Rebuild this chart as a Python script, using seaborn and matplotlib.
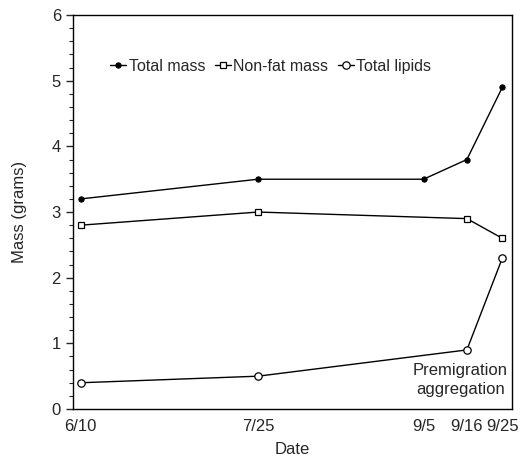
import pandas as pd
import numpy as np
import matplotlib
matplotlib.use("Agg")
import matplotlib.pyplot as plt
from matplotlib.ticker import MultipleLocator
import seaborn as sns

sns.set_style("ticks")
plt.rcParams["font.family"] = ["Liberation Sans", "DejaVu Sans"]

# valores
date_labels = ["6/10", "7/25", "9/5", "9/16", "9/25"]
total_mass = [3.2, 3.5, 3.5, 3.8, 4.9]
nonfat_dates = ["6/10", "7/25", "9/16", "9/25"]
nonfat_mass = [2.8, 3.0, 2.9, 2.6]
lipid_dates = ["6/10", "7/25", "9/16", "9/25"]
total_lipids = [0.4, 0.5, 0.9, 2.3]

def to_date(labels):
    return pd.to_datetime([f"2000/{d}" for d in labels], format="%Y/%m/%d")

df_total = pd.DataFrame({"data": to_date(date_labels), "mass": total_mass})
df_nonfat = pd.DataFrame({"data": to_date(nonfat_dates), "mass": nonfat_mass})
df_lipid = pd.DataFrame({"data": to_date(lipid_dates), "mass": total_lipids})

fig = plt.figure(figsize=(5.2, 4.57), dpi=100)
ax = fig.add_axes([0.140, 0.105, 0.845, 0.862])

sns.lineplot(data=df_total, x="data", y="mass", ax=ax, color="black", lw=1,
             marker="o", markersize=3.8, markerfacecolor="black",
             markeredgecolor="black", label="Total mass")
sns.lineplot(data=df_nonfat, x="data", y="mass", ax=ax, color="black", lw=1,
             marker="s", markersize=4.8, markerfacecolor="white",
             markeredgecolor="black", markeredgewidth=0.9, label="Non-fat mass")
sns.lineplot(data=df_lipid, x="data", y="mass", ax=ax, color="black", lw=1,
             marker="o", markersize=5.3, markerfacecolor="white",
             markeredgecolor="black", markeredgewidth=0.9, label="Total lipids")

dates = to_date(date_labels)
ax.set_xlim(pd.Timestamp("2000-06-08"), pd.Timestamp("2000-09-27 12:00"))
ax.set_xticks(dates)
ax.set_xticklabels(date_labels)
ax.tick_params(axis="x", length=0, pad=7, labelsize=12)

ax.set_ylim(0, 6)
ax.yaxis.set_major_locator(MultipleLocator(1))
ax.yaxis.set_minor_locator(MultipleLocator(0.2))
ax.tick_params(axis="y", which="major", length=5, width=1, labelsize=12, direction="out")
ax.tick_params(axis="y", which="minor", length=3, width=0.8, direction="out")

for s in ax.spines.values():
    s.set_linewidth(1)
    s.set_color("black")

ax.set_xlabel("Date", fontsize=12, labelpad=6)
ax.set_ylabel("Mass (grams)", fontsize=12, labelpad=18)

ax.legend(loc="upper center", bbox_to_anchor=(0.45, 0.905), ncol=3, frameon=False,
          fontsize=11.5, handlelength=1.0, handletextpad=0.15, columnspacing=0.6,
          borderaxespad=0)

ax.text(0.882, 0.03, "Premigration\naggregation", transform=ax.transAxes,
        ha="center", va="bottom", multialignment="center", fontsize=12,
        linespacing=1.35)

plt.savefig("out.png", dpi=100)
